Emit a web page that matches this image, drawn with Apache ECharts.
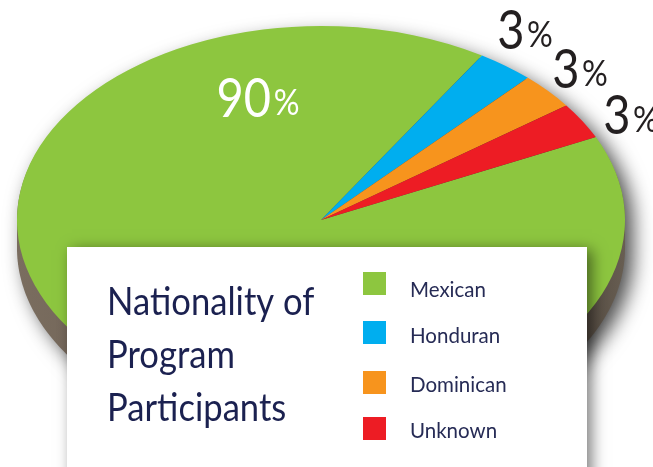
<!DOCTYPE html>
<html><head><meta charset="utf-8">
<style>html,body{margin:0;padding:0;background:#fff}#c{width:653px;height:467px}</style>
<script src="https://cdn.jsdelivr.net/npm/echarts@6/dist/echarts.min.js"></script>
</head><body><div id="c"></div>
<script>
const categories = ['Mexican','Honduran','Dominican','Unknown'];
const values = [90,3,3,3];
const colors = ['#8DC63F','#00AEEF','#F7941D','#ED1C24'];
const titleLines = ['Nationality of','Program','Participants'];
const labelAnchors = [[258,100],[525,32],[580,71],[631,117]];
const legendTops = [272,321,371,417];
const legendTextShift = [7,4,3,3];

const FONT = 'Lato,"Noto Sans",sans-serif';
const cx=321, cy=220, rx=304, ry=194, depth=28, START=25.3;
const total = values.reduce((a,b)=>a+b,0);

function rimPoints(){
  const pts=[];
  for(let d=0;d<=180;d+=1){const t=d*Math.PI/180;pts.push([cx+rx*Math.cos(t),cy+depth+ry*Math.sin(t)]);}
  for(let d=180;d<=360;d+=1){const t=d*Math.PI/180;pts.push([cx+rx*Math.cos(t),cy+(ry-4)*Math.sin(t)]);}
  return pts;
}

function renderSlice(idx){
  return function(params, api){
    const v = api.value(0);
    let before = 0;
    for(let i=0;i<idx;i++) before += values[i];
    const a0 = -START*Math.PI/180 + before/total*Math.PI*2;
    const a1 = a0 + v/total*Math.PI*2;
    const a = labelAnchors[idx];
    return {type:'group',children:[
      {type:'sector',originX:cx,originY:cy,scaleY:ry/rx,
       shape:{cx:cx,cy:cy,r:rx,r0:0,startAngle:a0,endAngle:a1,clockwise:true},
       style:{fill:api.visual('color')}},
      {type:'text',x:a[0],y:a[1],z2:50,scaleX:0.87,style:{
        text:'{n|'+v+'}{p|%}',align:'center',verticalAlign:'middle',
        rich:{
          n:{fontFamily:FONT,fontSize:54,fill:idx===0?'#fff':'#231F20'},
          p:{fontFamily:FONT,fontSize:37,fill:idx===0?'#fff':'#231F20',padding:[6,0,0,3]}
        }}}
    ]};
  };
}

const chart = echarts.init(document.getElementById('c'),null,{renderer:'canvas'});
chart.setOption({
  animation:false,
  color:colors,
  legend:categories.map((name,i)=>({
    data:[name],left:363,top:legendTops[i],z:20,orient:'vertical',padding:0,
    itemWidth:23,itemHeight:23,icon:'rect',selectedMode:false,
    formatter:'{t|{name}}',
    textStyle:{rich:{t:{fontFamily:FONT,fontSize:20.5,color:'#262B55',padding:[legendTextShift[i]*2,0,0,19]}}}
  })),
  graphic:[
    {type:'polygon',z:0,shape:{points:rimPoints()},
     style:{fill:{type:'linear',x:0,y:0,x2:1,y2:0,colorStops:[
       {offset:0,color:'#7A6D5F'},{offset:.12,color:'#74675A'},{offset:.86,color:'#3E362F'},{offset:1,color:'#685E52'}]},
       shadowBlur:20,shadowOffsetX:8,shadowOffsetY:6,shadowColor:'rgba(0,0,0,0.7)'}},
    {type:'rect',z:10,shape:{x:67,y:247,width:520,height:240},
     style:{fill:'#fff',shadowBlur:14,shadowOffsetX:5,shadowOffsetY:3,shadowColor:'rgba(0,0,0,0.5)'}},
    {type:'text',z:20,x:107,y:276,scaleX:0.888,
     style:{text:titleLines.join('\n'),fontFamily:FONT,fontSize:39,lineHeight:53,fill:'#1B2150'}}
  ],
  series:categories.map((name,i)=>({
    type:'custom',name:name,coordinateSystem:'none',z:2,silent:true,
    data:[[values[i]]],renderItem:renderSlice(i)
  }))
});
</script></body></html>
